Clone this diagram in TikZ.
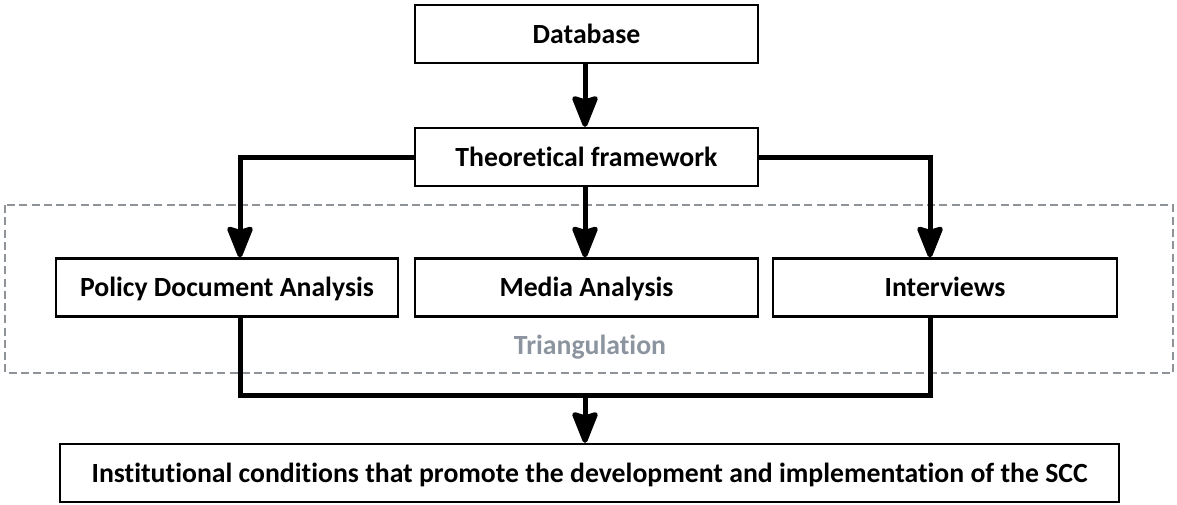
\documentclass[tikz,border=0pt]{standalone}
\usepackage{fontspec}
\setmainfont{Carlito}[Ligatures=NoCommon]
\usetikzlibrary{arrows.meta}
\definecolor{dashgray}{HTML}{8E9399}
\definecolor{trigray}{HTML}{8C959F}
\tikzset{
  lbl/.style={font=\fontsize{20.8}{24}\selectfont\bfseries, text height=16pt, text depth=2.5pt},
  box/.style={lbl, draw=black, line width=1.7pt, fill=white, inner sep=0pt,
    minimum height=43.5pt},
  conn/.style={line width=3.75pt, draw=black},
  arr/.style={conn, -{Stealth[length=27pt, width=21pt, inset=3pt, round]}},
  tribox/.style={draw=dashgray, line width=1.5pt, dash pattern=on 6pt off 3.2pt},
}
\begin{document}
\begin{tikzpicture}[x=0.75pt,y=-0.75pt]
\useasboundingbox (0,0) rectangle (1177,504);
\draw[tribox] (5,205) rectangle (1173,373);
\node[lbl, text=trigray] (tri) at (590,345) {Triangulation};
\node[box, minimum width=257pt] (db) at (586.5,34) {Database};
\node[box, minimum width=257pt] (tf) at (586.5,157) {Theoretical framework};
\node[box, minimum width=256.5pt] (pol) at (227,287.5) {Policy Document Analysis};
\node[box, minimum width=257pt] (med) at (586.5,287.5) {Media Analysis};
\node[box, minimum width=258pt] (int) at (945,287.5) {Interviews};
\node[box, minimum width=794pt] (out) at (589.5,473) {Institutional conditions that promote the development and implementation of the SCC};
\coordinate (pl) at (240,157);
\coordinate (il) at (930,157);
\coordinate (jl) at (240,395);
\coordinate (jr) at (930,395);
\coordinate (jm) at (585,395);
\draw[arr] (db.south -| jm) -- (tf.north -| jm);
\draw[arr] (tf.west) -| (pol.north -| pl);
\draw[arr] (tf.south -| jm) -- (med.north -| jm);
\draw[arr] (tf.east) -| (int.north -| il);
\draw[conn] (pol.south -| jl) -- (jl) -- (jr) -- (int.south -| jr);
\draw[arr] (jm) -- (out.north -| jm);
\end{tikzpicture}
\end{document}
